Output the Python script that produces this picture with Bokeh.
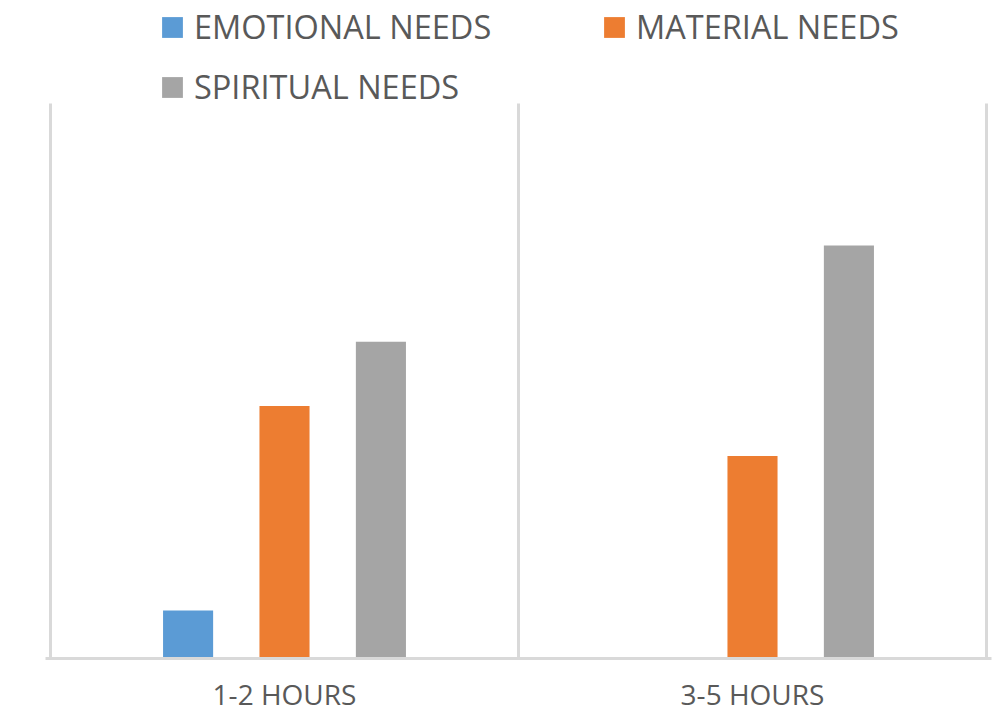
from bokeh.plotting import figure
from bokeh.models import FixedTicker, Legend, LegendItem, Range1d
from bokeh.embed import file_html
from bokeh.resources import INLINE

categories = ["1-2 HOURS", "3-5 HOURS"]
series_names = ["EMOTIONAL NEEDS", "MATERIAL NEEDS", "SPIRITUAL NEEDS"]
emotional = [5, 0]
material = [26.3, 21.1]
spiritual = [33, 43]
colors = ["#5b9bd5", "#ed7d31", "#a5a5a5"]
y_axis_max = 57.8

series_values = [emotional, material, spiritual]

FONT = "Open Sans"
TEXT_COLOR = "#595959"
GRID_COLOR = "#d9d9d9"

# frame: plot area 555px tall below a 103px legend band (all within the frame)
frame_h = 658
plot_h = 555
pad = 5 / 468.0
n = len(categories)

p = figure(width=993, height=715, output_backend="svg", toolbar_location=None,
           x_range=Range1d(-pad, n + pad),
           y_range=Range1d(0, y_axis_max * frame_h / plot_h),
           min_border_left=45, min_border_right=2, min_border_top=0, min_border_bottom=57)
p.outline_line_color = None
p.background_fill_color = "white"
p.xgrid.visible = False
p.ygrid.visible = False
p.yaxis.visible = False

# category boundary lines
bounds = list(range(n + 1))
p.segment(x0=bounds, y0=[0] * len(bounds), x1=bounds, y1=[y_axis_max] * len(bounds),
          line_color=GRID_COLOR, line_width=3)

centers = [i + 0.5 for i in range(n)]
offsets = [-0.206, 0.0, 0.206]
bar_w = 0.107

renderers = []
for vals, off, col in zip(series_values, offsets, colors):
    r = p.vbar(x=[c + off for c in centers], top=vals, bottom=0, width=bar_w,
               fill_color=col, line_color=None)
    renderers.append(r)

p.xaxis.ticker = FixedTicker(ticks=centers)
p.xaxis.major_label_overrides = {c: lab for c, lab in zip(centers, categories)}
p.xaxis.axis_line_color = GRID_COLOR
p.xaxis.axis_line_width = 3
p.xaxis.major_tick_line_color = None
p.xaxis.minor_tick_line_color = None
p.xaxis.major_label_text_font = FONT
p.xaxis.major_label_text_font_size = "28px"
p.xaxis.major_label_text_color = TEXT_COLOR
p.xaxis.major_label_standoff = 10

items = [LegendItem(label=nm, renderers=[r]) for nm, r in zip(series_names, renderers)]
legend = Legend(items=items, orientation="horizontal", ncols=2,
                location=(114, 549), border_line_color=None, background_fill_alpha=0,
                label_text_font=FONT, label_text_font_size="32.5px", label_text_color=TEXT_COLOR,
                glyph_width=26, glyph_height=26, label_standoff=9, label_width=392,
                spacing=15, padding=6, margin=0)
p.add_layout(legend, "center")

open("out.html", "w").write(file_html(p, INLINE))
